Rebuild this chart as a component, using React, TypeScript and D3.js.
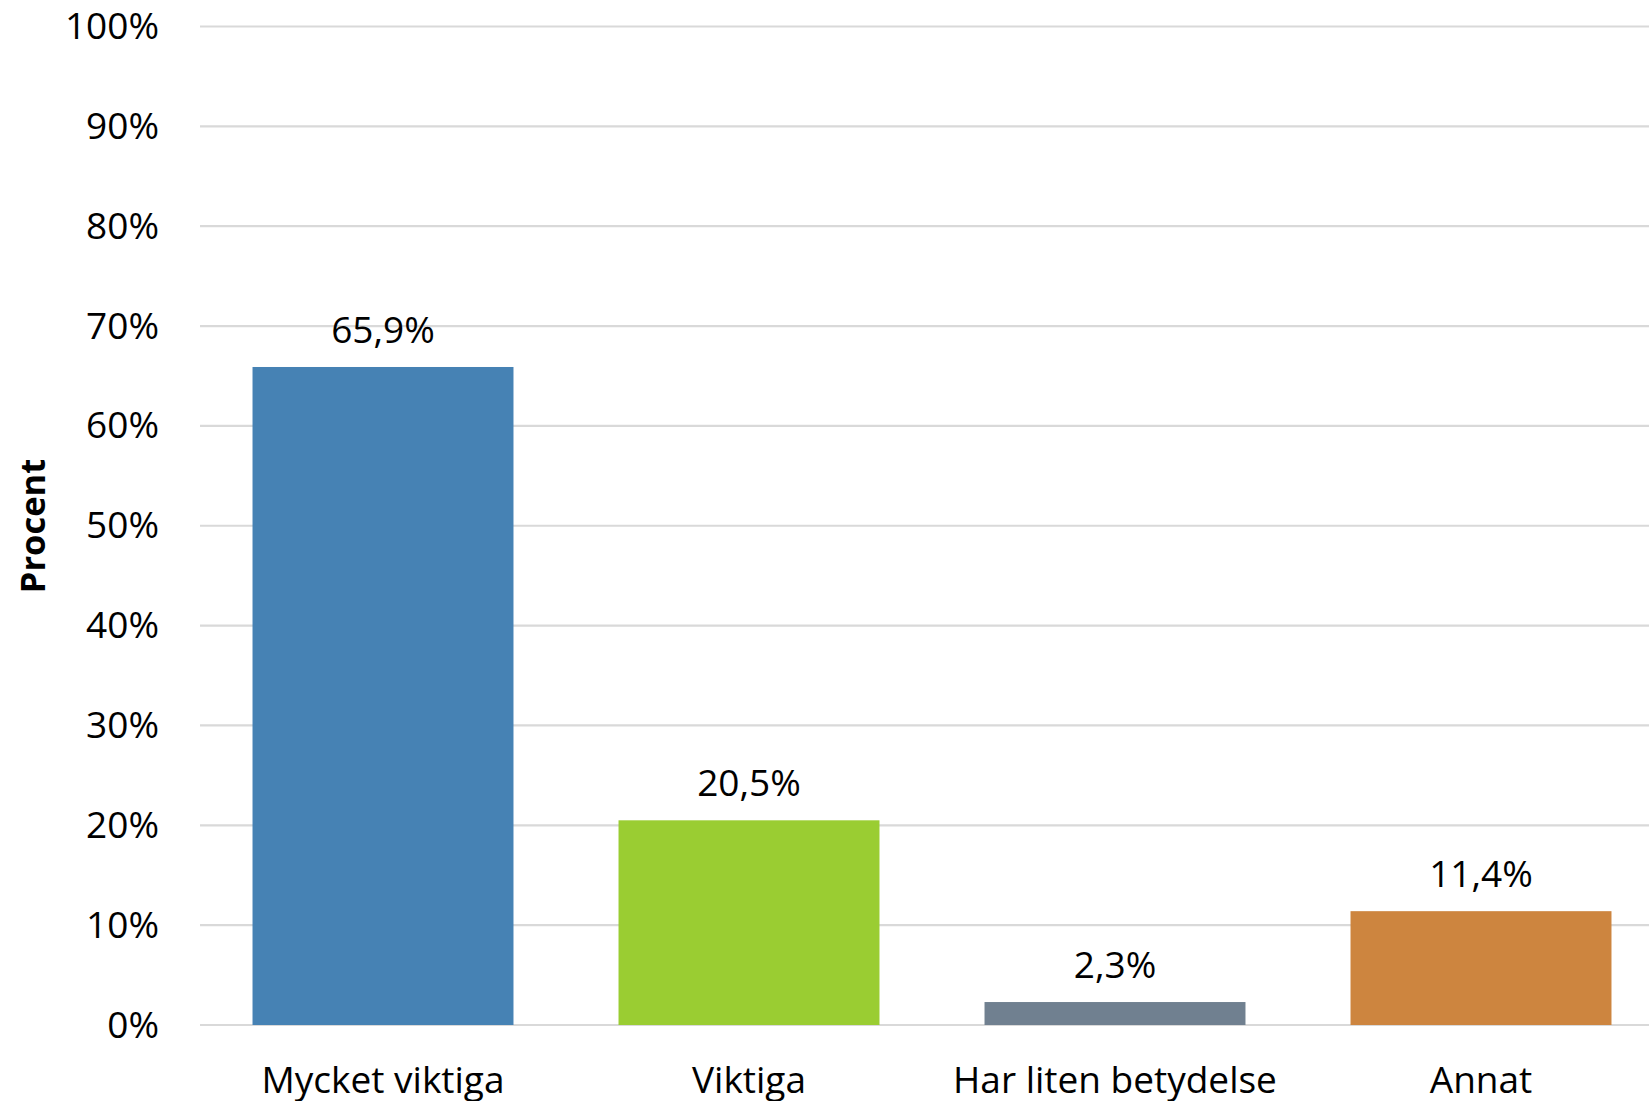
import React from "react";
import * as d3 from "d3";

const categories = ["Mycket viktiga", "Viktiga", "Har liten betydelse", "Annat"];
const values = [65.9, 20.5, 2.3, 11.4];
const colors = ["#4682B4", "#9ACD32", "#708090", "#CD853F"];
const yTicks = [0, 10, 20, 30, 40, 50, 60, 70, 80, 90, 100];
const yAxisTitle = "Procent";

const W = 1649;
const H = 1101;
const FONT = "'Open Sans', sans-serif";

export default function App() {
  const left = 200;
  const right = 1664;
  const top = 26.5;
  const bottom = 1025;
  const x = d3.scaleBand<string>().domain(categories).range([left, right]).paddingInner(0.287).paddingOuter(0.1435);
  const y = d3.scaleLinear().domain([0, 100]).range([bottom, top]);
  const fmt = (v: number) => v.toFixed(1).replace(".", ",") + "%";

  return (
    <svg width={W} height={H} style={{ position: "absolute", left: 0, top: 0, background: "#fff" }}>
      {yTicks.map((t) => (
        <g key={t}>
          <line x1={left} x2={W} y1={y(t)} y2={y(t)} stroke="#d9d9d9" strokeWidth={2.2} />
          <text x={159} y={y(t) - 2} textAnchor="end" dominantBaseline="central" fontFamily={FONT} fontSize={37} fill="#000">
            {t}%
          </text>
        </g>
      ))}
      {categories.map((c, i) => (
        <g key={c}>
          <rect x={x(c)} y={y(values[i])} width={x.bandwidth()} height={y(0) - y(values[i])} fill={colors[i]} />
          <text x={(x(c) as number) + x.bandwidth() / 2} y={y(values[i]) - 24} textAnchor="middle" fontFamily={FONT} fontSize={37} fill="#000">
            {fmt(values[i])}
          </text>
          <text x={(x(c) as number) + x.bandwidth() / 2} y={1093} textAnchor="middle" fontFamily={FONT} fontSize={37} fill="#000">
            {c}
          </text>
        </g>
      ))}
      <text transform={`translate(45, 526) rotate(-90)`} textAnchor="middle" fontFamily={FONT} fontSize={34.5} fontWeight="bold" fill="#000">
        {yAxisTitle}
      </text>
    </svg>
  );
}
